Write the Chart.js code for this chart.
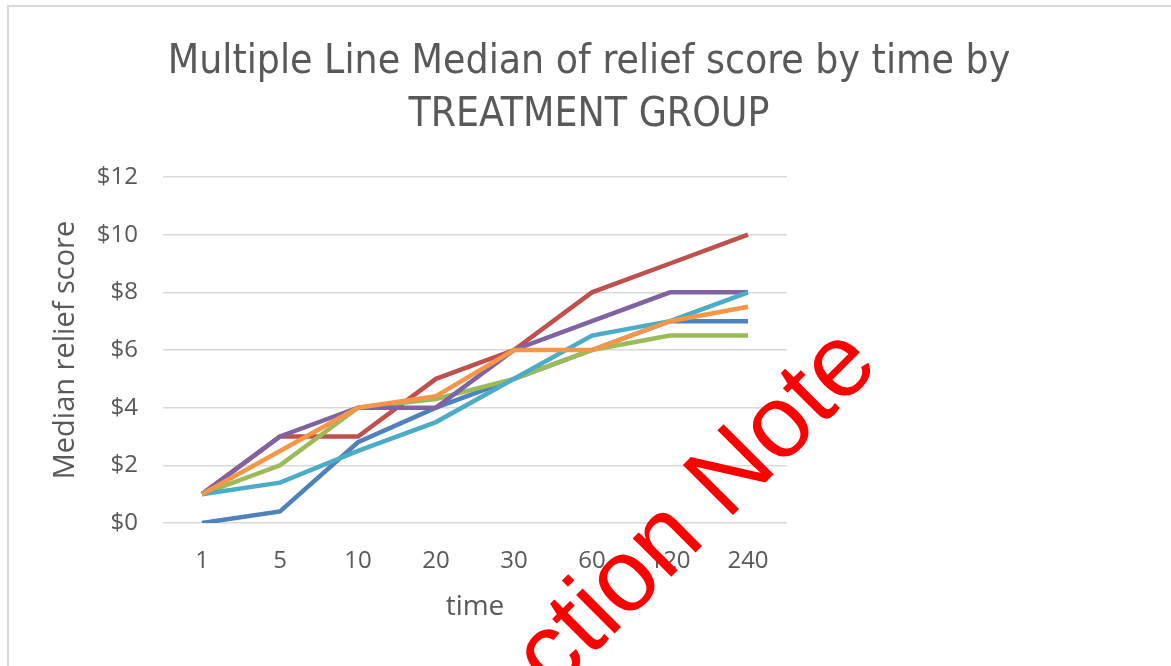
<!DOCTYPE html>
<html>
<head>
<meta charset="utf-8">
<script src="https://cdn.jsdelivr.net/npm/chart.js@4"></script>
<style>
  html, body { margin: 0; padding: 0; background: #fff; }
  #wrap { width: 1171px; height: 666px; }
</style>
</head>
<body>
<div id="wrap"><canvas id="myChart"></canvas></div>
<script>
// time points (categories)
var times = ['1', '5', '10', '20', '30', '60', '120', '240'];
var yTicks = [0, 2, 4, 6, 8, 10, 12];

// median relief score per treatment group
var grupo1 = [0, 0.4, 2.8, 4, 5, 6, 7, 7];
var grupo2 = [1, 3, 3, 5, 6, 8, 9, 10];
var grupo3 = [1, 2, 4, 4.3, 5, 6, 6.5, 6.5];
var grupo4 = [1, 3, 4, 4, 6, 7, 8, 8];
var grupo5 = [1, 1.4, 2.5, 3.5, 5, 6.5, 7, 8];
var grupo6 = [1, 2.5, 4, 4.4, 6, 6, 7, 7.5];

var nomes = ['Group 1', 'Group 2', 'Group 3', 'Group 4', 'Group 5', 'Group 6'];
var cores = ['#4F81BD', '#C0504D', '#9BBB59', '#8064A2', '#4BACC6', '#F79646'];
var series = [grupo1, grupo2, grupo3, grupo4, grupo5, grupo6];

var titulo = ['Multiple Line Median of relief score by time by', 'TREATMENT GROUP'];
var marcaDagua = 'ction Note';

var datasets = series.map(function (valores, i) {
  return {
    label: nomes[i],
    data: valores,
    borderColor: cores[i],
    backgroundColor: cores[i],
    borderWidth: 4.5,
    pointRadius: 0,
    tension: 0,
    order: 6 - i
  };
});

// frame + title + red overlay text
var extras = {
  id: 'extras',
  beforeDraw: function (chart) {
    var ctx = chart.ctx;
    ctx.save();
    ctx.strokeStyle = '#d9d9d9';
    ctx.lineWidth = 2;
    ctx.beginPath();
    ctx.moveTo(8, 700);
    ctx.lineTo(8, 6);
    ctx.lineTo(1200, 6);
    ctx.stroke();

    ctx.fillStyle = '#595959';
    ctx.font = '40.5px "DejaVu Sans Condensed", sans-serif';
    ctx.textAlign = 'center';
    ctx.textBaseline = 'middle';
    ctx.fillText(titulo[0], 589, 62);
    ctx.fillText(titulo[1], 589, 115);
    ctx.restore();
  },
  afterDraw: function (chart) {
    var ctx = chart.ctx;
    ctx.save();
    ctx.translate(553, 695);
    ctx.rotate(-Math.PI / 4);
    ctx.fillStyle = '#ff0000';
    ctx.font = '103px "Liberation Sans", Arial, sans-serif';
    ctx.textAlign = 'left';
    ctx.textBaseline = 'alphabetic';
    ctx.fillText(marcaDagua, 0, 0);
    ctx.restore();
  }
};

const ctx = document.getElementById('myChart');

new Chart(ctx, {
  type: 'line',
  data: {
    labels: times,
    datasets: datasets
  },
  options: {
    responsive: true,
    maintainAspectRatio: false,
    animation: false,
    layout: {
      padding: { left: 40, right: 384, top: 177, bottom: 42 }
    },
    plugins: {
      legend: { display: false },
      title: { display: false },
      tooltip: { enabled: false }
    },
    scales: {
      x: {
        offset: true,
        grid: { display: false, drawTicks: false },
        border: { display: false },
        ticks: {
          color: '#595959',
          padding: 24,
          font: { family: 'Open Sans', size: 24 }
        },
        title: {
          display: true,
          text: 'time',
          color: '#595959',
          padding: { top: 14, bottom: 0 },
          font: { family: 'Open Sans', size: 28 }
        },
        afterFit: function (s) { s.height = 101; }
      },
      y: {
        min: 0,
        max: 12,
        afterBuildTicks: function (s) {
          s.ticks = yTicks.map(function (v) { return { value: v }; });
        },
        grid: { color: '#d9d9d9', lineWidth: 1.5, drawTicks: false },
        border: { display: false },
        ticks: {
          color: '#595959',
          padding: 25,
          font: { family: 'Open Sans', size: 24 },
          callback: function (v) { return '$' + v; }
        },
        title: {
          display: true,
          text: 'Median relief score',
          color: '#595959',
          padding: { top: 8, bottom: 10 },
          font: { family: 'Open Sans', size: 29 }
        },
        afterFit: function (s) { s.width = 123; }
      }
    }
  },
  plugins: [extras]
});
</script>
</body>
</html>
